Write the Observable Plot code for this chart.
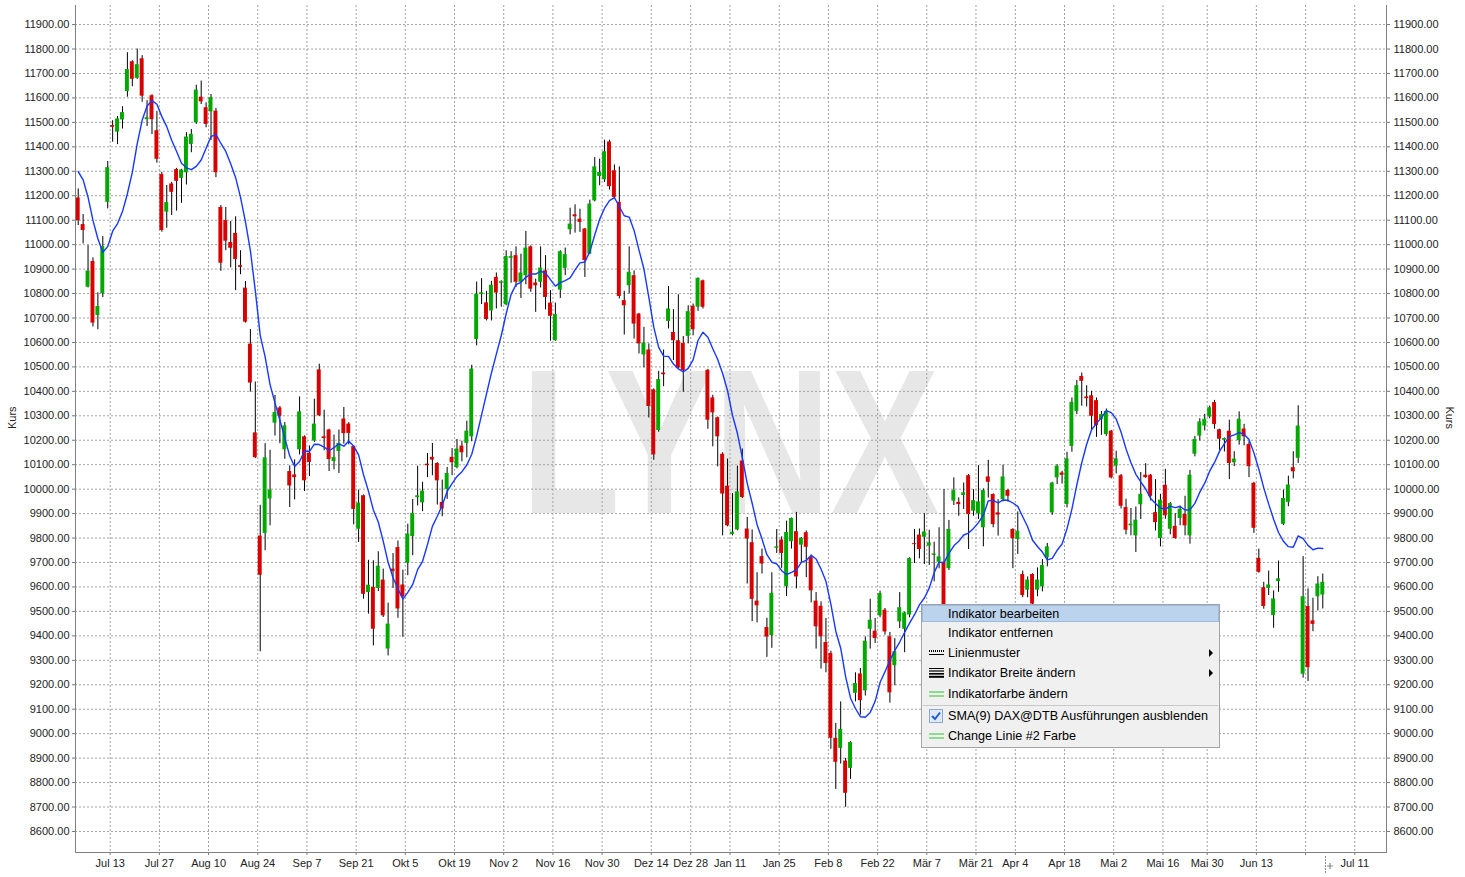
<!DOCTYPE html>
<html>
<head>
<meta charset="utf-8">
<script src="https://cdn.jsdelivr.net/npm/d3@7"></script>
<script src="https://cdn.jsdelivr.net/npm/@observablehq/plot@0.6"></script>
<style>
html, body { margin: 0; padding: 0; background: #fff; overflow: hidden; }
#wrap { position: relative; width: 1465px; height: 877px; }
#chart svg { display: block; }
#menu { position: absolute; left: 921px; top: 604px; width: 297px; height: 142px; background: #f0f0f0; border: 1px solid #a3a3a3; font-family: "Liberation Sans", Arial, sans-serif; font-size: 12.6px; color: #000; }
#menu .it { position: absolute; left: 0; width: 297px; }
#menu .it .tx { position: absolute; left: 26px; top: 50%; transform: translateY(-50%); white-space: nowrap; }
#menu .it svg.ic { position: absolute; left: 7px; top: 50%; transform: translateY(-50%); }
#menu .it svg.ar { position: absolute; left: 287px; top: 50%; transform: translateY(-50%); }
#menu .hl { background: #bcd3ee; outline: 1px solid #9dbbe0; outline-offset: -1px; }
#menu .sep { position: absolute; left: 1px; width: 295px; height: 1px; background: #c8c8c8; }
</style>
</head>
<body>
<div id="wrap">
  <div id="chart"></div>
  <div id="menu">
    <div class="it hl" style="top:0;height:17px"><span class="tx">Indikator bearbeiten</span></div>
    <div class="it" style="top:18px;height:19px"><span class="tx">Indikator entfernen</span></div>
    <div class="it" style="top:38px;height:19px">
      <svg class="ic" width="15" height="6"><line x1="0" y1="1" x2="15" y2="1" stroke="#000" stroke-width="2" stroke-dasharray="1,1"/><line x1="0" y1="4.5" x2="15" y2="4.5" stroke="#000" stroke-width="1"/></svg>
      <span class="tx">Linienmuster</span>
      <svg class="ar" width="5" height="8"><path d="M0,0L4,4L0,8Z" fill="#000"/></svg>
    </div>
    <div class="it" style="top:58px;height:20px">
      <svg class="ic" width="15" height="10"><line x1="0" y1="0.5" x2="15" y2="0.5" stroke="#000" stroke-width="1"/><line x1="0" y1="3" x2="15" y2="3" stroke="#000" stroke-width="1.2"/><line x1="0" y1="5.8" x2="15" y2="5.8" stroke="#000" stroke-width="1.6"/><line x1="0" y1="8.8" x2="15" y2="8.8" stroke="#000" stroke-width="2"/></svg>
      <span class="tx">Indikator Breite ändern</span>
      <svg class="ar" width="5" height="8"><path d="M0,0L4,4L0,8Z" fill="#000"/></svg>
    </div>
    <div class="it" style="top:79px;height:20px">
      <svg class="ic" width="15" height="7"><line x1="0" y1="1.5" x2="15" y2="1.5" stroke="#2fc42f" stroke-width="1.2"/><line x1="0" y1="5.5" x2="15" y2="5.5" stroke="#2fc42f" stroke-width="1.2"/></svg>
      <span class="tx">Indikatorfarbe ändern</span>
    </div>
    <div class="sep" style="top:100px"></div>
    <div class="it" style="top:101px;height:20px">
      <svg class="ic" width="14" height="14"><rect x="0.5" y="0.5" width="13" height="13" fill="#dfe9f7" stroke="#8aa9d4"/><path d="M3,7L6,10L11,3.5" fill="none" stroke="#1f5fc8" stroke-width="2"/></svg>
      <span class="tx">SMA(9) DAX@DTB Ausführungen ausblenden</span>
    </div>
    <div class="it" style="top:121px;height:20px">
      <svg class="ic" width="15" height="7"><line x1="0" y1="1.5" x2="15" y2="1.5" stroke="#2fc42f" stroke-width="1.2"/><line x1="0" y1="5.5" x2="15" y2="5.5" stroke="#2fc42f" stroke-width="1.2"/></svg>
      <span class="tx">Change Linie #2 Farbe</span>
    </div>
  </div>
</div>
<script>
// DAX daily candles, 2 Jul 2015 – 30 Jun 2016 (one entry per trading day)
const open = [
11191,11082,10826,10931,10710,10799,11173,11487,11460,11510,
11626,11748,11680,11760,11511,11609,11466,11287,11133,11248,
11307,11271,11294,11410,11498,11603,11560,11543,11546,
11152,11098,11009,11046,10914,10822,10593,10230,9808,9819,
9960,10270,10332,10161,10072,10058,10161,10214,10147,10197,
10488,10214,10242,10113,10154,10287,10266,10174,9836,9973,
9577,9598,9594,9628,9346,
9673,9761,9608,9697,9806,9965,9944,10102,10130,10105,
9946,9999,10130,10088,10176,10187,10214,10612,10796,10762,
10729,10866,10842,10754,10944,10955,10846,10873,10991,10843,
10846,10893,10761,10607,10814,10903,11061,11122,11104,11064,
10961,11179,11279,11265,11420,11302,11173,10771,10832,10873,
10716,10549,10569,10406,10240,10475,10686,10641,10607,10596,
10625,10748,10744,10852,
10486,10373,10292,10143,10012,9815,9833,10115,9837,9781,
9542,9724,9434,9401,9758,9792,9601,9785,9826,9771,
9822,9720,9542,9521,9373,9328,8981,8940,8888,8858,
9165,9244,9175,9427,9419,9482,9505,9396,9278,9457,
9427,9485,9777,
9812,9803,9767,9729,9701,9701,9675,9951,9946,9974,
10055,9910,9899,9842,10050,9978,9903,9957,9995,9835,
9794,9651,9587,9651,9587,9601,9719,9903,10046,10066,
9937,10175,10318,10461,10377,10382,10362,10284,10223,10237,
10094,10055,
9925,9850,9809,9936,10057,10057,9904,9798,10016,9836,
9848,9880,9897,9809,10143,10217,10258,10295,10354,10243,
10200,10237,10108,10198,10246,10183,10024,9717,9597,9594,
9483,9622,9856,9946,10088,10126,9243,9520,9461,9560,
9567
];
const high = [
11228,11123,10996,10946,10803,11033,11340,11507,11524,11564,
11785,11752,11800,11773,11589,11613,11545,11296,11242,11255,
11312,11308,11458,11471,11652,11669,11580,11614,11557,
11160,11152,11095,11114,10975,10849,10653,10438,9934,10186,
10159,10383,10338,10272,10095,10120,10377,10218,10177,10368,
10511,10323,10245,10221,10242,10334,10272,10177,9996,9976,
9709,9707,9744,9673,9534,
9737,9788,9669,9857,9958,10094,10028,10146,10187,10108,
10037,10089,10166,10203,10196,10278,10507,10847,10861,10809,
10850,10884,10852,10975,10971,10991,10961,11054,10995,10859,
10991,10955,10812,10761,10975,10986,11149,11163,11145,11066,
11182,11356,11350,11427,11427,11326,11318,10809,10991,10893,
10719,10662,10594,10410,10482,10569,10829,10734,10795,10624,
10750,10757,10864,10855,
10490,10384,10295,10149,10123,9982,10094,10164,9884,9833,
9658,9755,9472,9658,9835,9805,9869,9882,9905,9802,
9829,9730,9577,9539,9471,9337,9042,9130,8899,8967,
9249,9267,9396,9550,9471,9583,9512,9414,9389,9577,
9497,9719,9835,
9837,9900,9832,9783,9842,9998,9872,10046,9964,10025,
10060,9998,10096,10001,10118,9981,9957,10098,9998,9838,
9907,9665,9641,9654,9678,9712,9778,10028,10100,10073,
10151,10373,10444,10475,10423,10400,10373,10318,10328,10240,
10155,10060,
9959,9921,9927,10068,10104,10060,10039,9979,10081,9945,
9900,9931,9971,10077,10216,10288,10306,10340,10363,10245,
10209,10282,10153,10316,10265,10194,10028,9755,9619,9665,
9584,9706,9996,10053,10153,10341,9724,9592,9554,9642,
9653
];
const low = [
11078,11003,10823,10663,10652,10783,11146,11419,11409,11473,
11603,11646,11676,11582,11483,11450,11333,11051,11067,11119,
11137,11169,11244,11376,11492,11573,11478,11426,11274,
10891,10975,10905,10812,10877,10679,10397,10125,9335,9748,
9850,10217,10186,10122,9925,9956,10140,9990,10052,10191,
10297,10157,10072,10079,10064,10184,10181,9854,9782,9550,
9489,9359,9581,9475,9318,
9594,9472,9394,9646,9728,9931,9908,10047,10055,9935,
9887,9958,10055,10083,10112,10128,10194,10586,10755,10688,
10688,10737,10744,10750,10842,10825,10780,10836,10805,10723,
10823,10733,10605,10605,10780,10873,11040,11047,11050,10866,
10959,11175,11241,11254,11223,11186,10778,10630,10798,10614,
10553,10496,10291,10118,10233,10419,10655,10526,10493,10396,
10594,10627,10727,10737,
10245,10173,10091,9809,9846,9809,9830,9962,9612,9458,
9453,9653,9312,9349,9737,9676,9561,9755,9592,9696,
9638,9535,9346,9264,9249,8936,8772,8876,8699,8813,
9130,9076,9154,9346,9369,9474,9403,9125,9196,9430,
9331,9474,9696,
9715,9692,9688,9621,9674,9470,9667,9933,9889,9917,
9753,9889,9876,9764,9964,9842,9808,9948,9947,9675,
9733,9556,9556,9495,9560,9580,9682,9893,10019,10021,
9923,10151,10305,10339,10336,10243,10212,10220,10216,10042,
10062,9919,
9813,9809,9741,9876,10044,9952,9829,9764,9877,9813,
9795,9850,9809,9775,10132,10197,10238,10288,10245,10159,
10152,10039,10092,10180,10177,10047,9819,9656,9509,9565,
9431,9578,9851,9928,10042,10105,9227,9213,9417,9502,
9510
];
const close = [
11098,11058,10892,10679,10747,10992,11315,11480,11514,11540,
11716,11676,11736,11607,11519,11511,11349,11058,11172,11214,
11259,11305,11440,11451,11632,11584,11492,11601,11294,
10924,11014,10985,10939,10907,10683,10434,10129,9648,10128,
9996,10313,10298,10259,10013,10047,10316,10034,10109,10266,
10300,10207,10121,10129,10187,10227,10228,9917,9943,9570,
9607,9427,9685,9482,9448,
9663,9510,9560,9816,9901,9973,9992,10096,10119,10034,
9919,10064,10108,10164,10149,10237,10491,10797,10803,10694,
10834,10802,10848,10951,10951,10846,10884,10986,10818,10832,
10904,10784,10707,10714,10971,10959,11084,11114,11091,10935,
11166,11318,11295,11380,11237,11193,10788,10750,10887,10675,
10594,10598,10338,10140,10448,10468,10737,10607,10496,10485,
10726,10652,10862,10744,
10282,10312,10214,9980,9850,9824,9989,9966,9796,9549,
9523,9694,9395,9574,9764,9737,9823,9880,9641,9799,
9762,9584,9437,9396,9287,8981,8883,9017,8756,8964,
9205,9135,9378,9464,9389,9573,9416,9167,9335,9515,
9494,9716,9773,
9753,9825,9780,9735,9723,9498,9835,9994,9937,9985,
9896,9953,9948,9994,10028,9855,9894,10050,9971,9797,
9828,9565,9628,9530,9628,9688,9764,10025,10094,10057,
10124,10355,10423,10441,10370,10298,10260,10305,10318,10046,
10124,9930,
9832,9857,9873,9979,10047,9971,9863,9955,9891,9941,
9798,9918,9850,10057,10203,10275,10286,10333,10264,10204,
10207,10105,10123,10286,10214,10092,9840,9660,9520,9608,
9551,9633,9962,10017,10071,10258,9560,9270,9447,9612,
9619
];
// SMA(9) values for the first days (earlier closes are off-screen)
const smaLead = [11299, 11265, 11194, 11099, 11024, 10969, 10992, 11055];
const smaPeriod = 9;

// x-axis: label text and the trading-day index it marks ("" = gridline only)
const tickLabels = ["Jul 13","Jul 27","Aug 10","Aug 24","Sep 7","Sep 21","Okt 5","Okt 19","Nov 2","Nov 16","Nov 30","Dez 14","Dez 28","Jan 11","Jan 25","Feb 8","Feb 22","Mär 7","Mär 21","Apr 4","Apr 18","Mai 2","Mai 16","Mai 30","Jun 13","","Jul 11"];
const tickAt     = [7,17,27,37,47,57,67,77,87,97,107,117,125,133,143,153,163,173,183,191,201,211,221,230,240,250,260];
const yTicks = d3.range(8600, 11901, 100);

const candles = close.map((c, i) => ({i, o: open[i], h: high[i], l: low[i], c, up: c >= open[i]}));
const sma = close.map((c, i) => ({
  i,
  v: i < smaLead.length ? smaLead[i] : d3.mean(close.slice(i - smaPeriod + 1, i + 1))
}));
const xTickPos = tickAt.map(i => i - 0.5);
const labelAt = new Map(xTickPos.map((p, k) => [p, tickLabels[k]]));

const FONT = '"Liberation Sans", Arial, sans-serif';
const gridStyle = {stroke: "#a2a2a2", strokeOpacity: 1, strokeDasharray: "2,2", strokeWidth: 1};

const chart = Plot.plot({
  width: 1465,
  height: 877,
  marginLeft: 75,
  marginRight: 79,
  marginTop: 5,
  marginBottom: 25,
  style: {fontFamily: FONT, fontSize: "11px", background: "#fff", color: "#222"},
  x: {type: "linear", domain: [-0.55, 265.95]},
  y: {domain: [8514, 11978]},
  marks: [
    Plot.gridY(yTicks, gridStyle),
    Plot.gridX(xTickPos, gridStyle),
    Plot.ruleX(candles, {x: "i", y1: "l", y2: "h", stroke: "#000", strokeWidth: 1, ariaLabel: "wicks"}),
    Plot.rect(candles, {filter: d => d.up, x1: d => d.i - 0.4, x2: d => d.i + 0.4, y1: "o", y2: "c", fill: "#00a800"}),
    Plot.rect(candles, {filter: d => !d.up, x1: d => d.i - 0.4, x2: d => d.i + 0.4, y1: "o", y2: "c", fill: "#d80000"}),
    Plot.line(sma, {x: "i", y: "v", stroke: "#1638ff", strokeWidth: 1.4}),
    Plot.axisY(yTicks, {anchor: "left", tickFormat: d => d.toFixed(2), tickSize: 3, tickPadding: 3, fontSize: 11, label: null, stroke: "#777"}),
    Plot.axisY(yTicks, {anchor: "right", tickFormat: d => d.toFixed(2), tickSize: 3, tickPadding: 4, fontSize: 11, label: null, stroke: "#777"}),
    Plot.axisX(xTickPos, {anchor: "bottom", tickFormat: d => labelAt.get(d) ?? "", tickSize: 3, tickPadding: 4, fontSize: 11, label: null, stroke: "#777"}),
    Plot.frame({anchor: "left", stroke: "#808080"}),
    Plot.frame({anchor: "right", stroke: "#808080"}),
    Plot.frame({anchor: "bottom", stroke: "#808080"}),
    Plot.text(["Kurs"], {text: d => d, frameAnchor: "left", dx: -63, rotate: -90, fontSize: 11, fill: "#222"}),
    Plot.text(["Kurs"], {text: d => d, frameAnchor: "right", dx: 63, rotate: 90, fontSize: 11, fill: "#222"})
  ]
});
document.getElementById("chart").appendChild(chart);

// watermark behind everything
const svg = d3.select(chart);
svg.insert("text", "g")
  .text("LYNX")
  .attr("x", 521).attr("y", 513)
  .attr("text-anchor", "start")
  .attr("font-family", FONT)
  .attr("font-weight", "bold")
  .attr("font-size", 206)
  .attr("fill", "#e7e7e7")
  .attr("textLength", 418)
  .attr("lengthAdjust", "spacingAndGlyphs");

// small position marker at the bottom right of the time axis
const mk = svg.append("g").attr("stroke", "#8a8a8a").attr("fill", "none");
mk.append("line").attr("x1", 1325.5).attr("x2", 1325.5).attr("y1", 856).attr("y2", 874).attr("stroke-dasharray", "2,1");
mk.append("path").attr("d", "M1327,866H1333M1330,863V869").attr("stroke-width", 1.2);
</script>
</body>
</html>
